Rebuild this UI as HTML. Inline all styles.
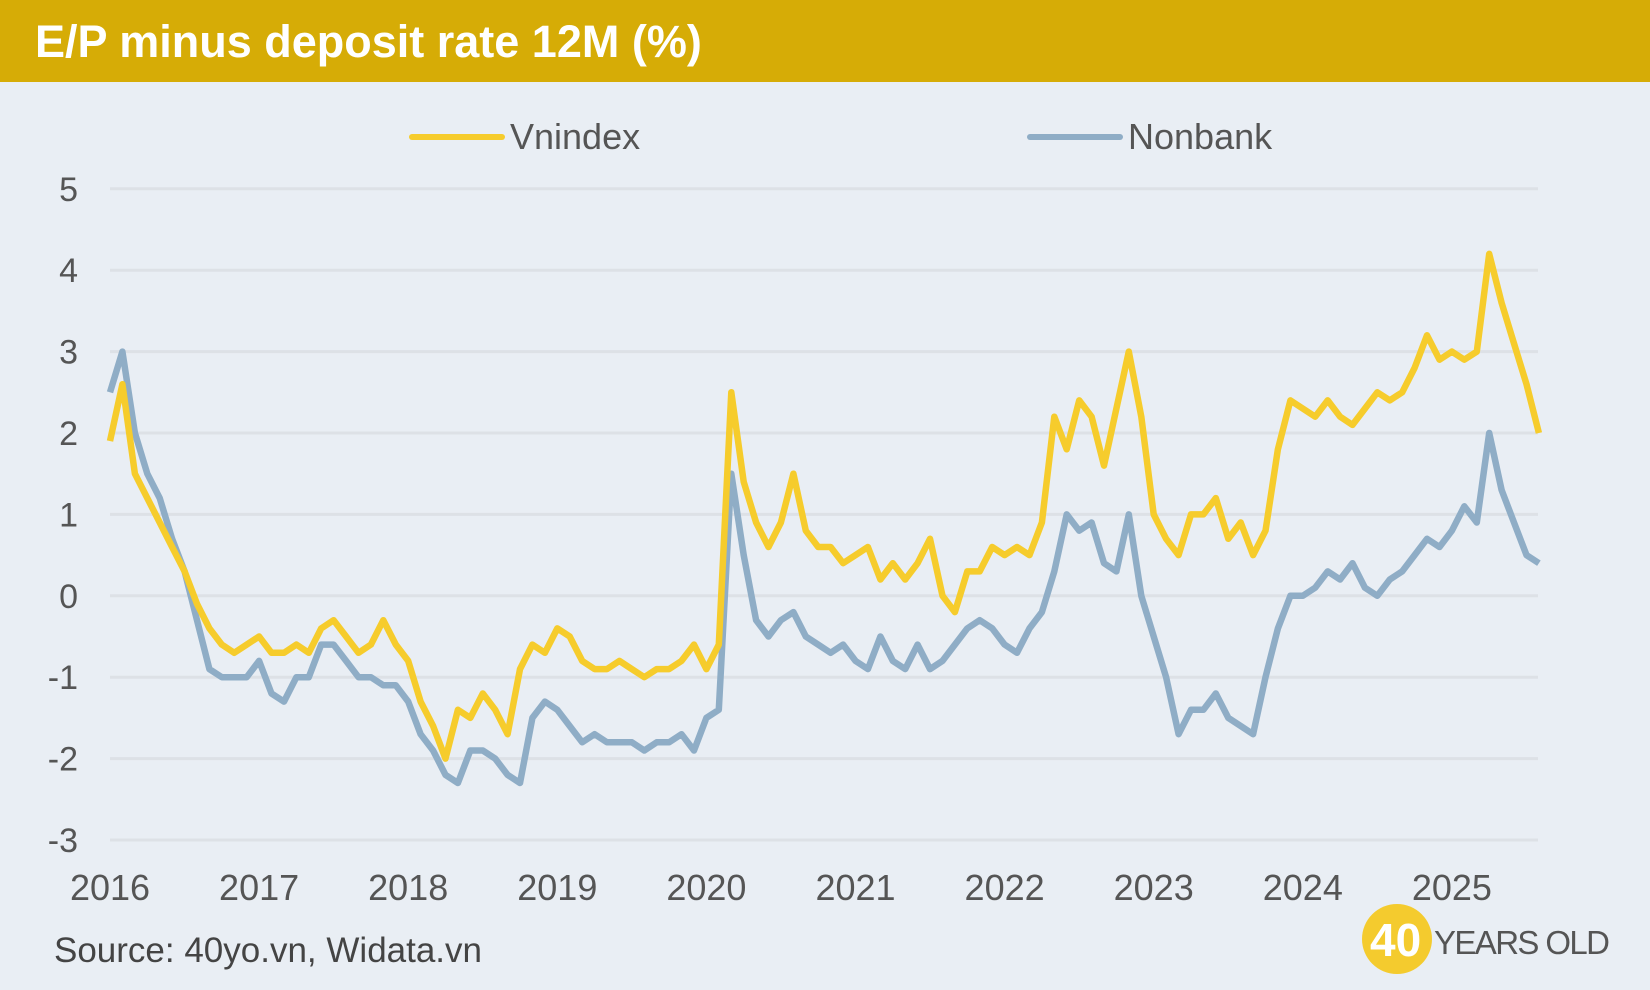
<!DOCTYPE html>
<html><head><meta charset="utf-8"><style>
body{margin:0;width:1650px;height:990px;background:#E9EEF4;font-family:"Liberation Sans",sans-serif;overflow:hidden}
#hdr{position:absolute;left:0;top:0;width:1650px;height:82px;background:#D6AC06}
#title{position:absolute;left:35px;top:16px;font-size:45px;font-weight:bold;color:#fff;letter-spacing:0px}
svg{position:absolute;left:0;top:0}
</style></head><body>
<div id="hdr"><div id="title">E/P minus deposit rate 12M (%)</div></div>
<svg id="chart" width="1650" height="990"></svg>
<script>
const yTicks=[5,4,3,2,1,0,-1,-2,-3];
const xYears=[2016,2017,2018,2019,2020,2021,2022,2023,2024,2025];
const vnindex=[1.9,2.6,1.5,1.2,0.9,0.6,0.3,-0.1,-0.4,-0.6,-0.7,-0.6,
-0.5,-0.7,-0.7,-0.6,-0.7,-0.4,-0.3,-0.5,-0.7,-0.6,-0.3,-0.6,
-0.8,-1.3,-1.6,-2.0,-1.4,-1.5,-1.2,-1.4,-1.7,-0.9,-0.6,-0.7,
-0.4,-0.5,-0.8,-0.9,-0.9,-0.8,-0.9,-1.0,-0.9,-0.9,-0.8,-0.6,
-0.9,-0.6,2.5,1.4,0.9,0.6,0.9,1.5,0.8,0.6,0.6,0.4,
0.5,0.6,0.2,0.4,0.2,0.4,0.7,0.0,-0.2,0.3,0.3,0.6,
0.5,0.6,0.5,0.9,2.2,1.8,2.4,2.2,1.6,2.3,3.0,2.2,
1.0,0.7,0.5,1.0,1.0,1.2,0.7,0.9,0.5,0.8,1.8,2.4,
2.3,2.2,2.4,2.2,2.1,2.3,2.5,2.4,2.5,2.8,3.2,2.9,
3.0,2.9,3.0,4.2,3.6,3.1,2.6,2.0];
const nonbank=[2.5,3.0,2.0,1.5,1.2,0.7,0.3,-0.3,-0.9,-1.0,-1.0,-1.0,
-0.8,-1.2,-1.3,-1.0,-1.0,-0.6,-0.6,-0.8,-1.0,-1.0,-1.1,-1.1,
-1.3,-1.7,-1.9,-2.2,-2.3,-1.9,-1.9,-2.0,-2.2,-2.3,-1.5,-1.3,
-1.4,-1.6,-1.8,-1.7,-1.8,-1.8,-1.8,-1.9,-1.8,-1.8,-1.7,-1.9,
-1.5,-1.4,1.5,0.5,-0.3,-0.5,-0.3,-0.2,-0.5,-0.6,-0.7,-0.6,
-0.8,-0.9,-0.5,-0.8,-0.9,-0.6,-0.9,-0.8,-0.6,-0.4,-0.3,-0.4,
-0.6,-0.7,-0.4,-0.2,0.3,1.0,0.8,0.9,0.4,0.3,1.0,0.0,
-0.5,-1.0,-1.7,-1.4,-1.4,-1.2,-1.5,-1.6,-1.7,-1.0,-0.4,0.0,
0.0,0.1,0.3,0.2,0.4,0.1,0.0,0.2,0.3,0.5,0.7,0.6,
0.8,1.1,0.9,2.0,1.3,0.9,0.5,0.4];
const NS='http://www.w3.org/2000/svg';
const svg=document.getElementById('chart');
const X0=110,YW=149.1,Y0=840,YU=81.4;
const xs=t=>X0+(t-2016)*YW;
const ys=v=>Y0-(v+3)*YU;
function mk(tag,attrs,parent){const e=document.createElementNS(NS,tag);for(const k in attrs)e.setAttribute(k,attrs[k]);(parent||svg).appendChild(e);return e;}
yTicks.forEach(v=>{
 const g=mk('line',{x1:110,x2:1538,y1:ys(v),y2:ys(v),stroke:'#DDE1E6','stroke-width':3});
 
 
 const t=mk('text',{x:78,y:ys(v)+12,'text-anchor':'end','font-size':34,fill:'#555'});
 t.textContent=v;
 
 
});
xYears.forEach(y=>{
 const t=mk('text',{x:xs(y),y:900,'text-anchor':'middle','font-size':36,fill:'#555'});
 t.textContent=y;
 
 
});
function series(arr,color,name){
 const pts=arr.map((v,i)=>xs(2016+i/12).toFixed(1)+','+ys(v).toFixed(1)).join(' ');
 const p=mk('polyline',{points:pts,fill:'none',stroke:color,'stroke-width':6.5,'stroke-linejoin':'round'});
 
 
}
series(nonbank,'#8FADC6','nonbank-line');
series(vnindex,'#F6CC2C','vnindex-line');
function legend(x,color,label,name){
 const l=mk('line',{x1:x,x2:x+90,y1:137,y2:137,stroke:color,'stroke-width':6,'stroke-linecap':'round'});
 
 
 const t=mk('text',{x:x+98,y:149,'font-size':36,fill:'#555'});
 t.textContent=label;
 
 
}
legend(412,'#F6CC2C','Vnindex','legend-vnindex');
legend(1030,'#8FADC6','Nonbank','legend-nonbank');
const s=mk('text',{x:54,y:962,'font-size':35,fill:'#444'});
s.textContent='Source: 40yo.vn, Widata.vn';


const c=mk('circle',{cx:1397,cy:939,r:35,fill:'#F4CB2E'});


const l1=mk('text',{x:1370,y:956,'font-size':46,'font-weight':'bold',fill:'#fff'});
l1.textContent='40';


const l2=mk('text',{x:1434,y:954,'font-size':33,fill:'#555',textLength:176});
l2.textContent='YEARS OLD';


</script>
</body></html>
